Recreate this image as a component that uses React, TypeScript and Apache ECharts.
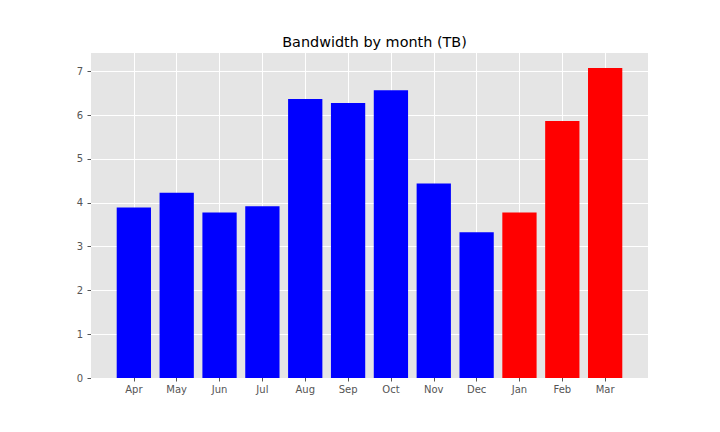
import React, { useEffect, useRef } from "react";
import * as echarts from "echarts";

const months = ["Apr", "May", "Jun", "Jul", "Aug", "Sep", "Oct", "Nov", "Dec", "Jan", "Feb", "Mar"];
const bandwidth = [3.89, 4.23, 3.78, 3.92, 6.37, 6.28, 6.57, 4.44, 3.33, 3.78, 5.87, 7.08];
const redFromIndex = 9;
const yTicks = [0, 1, 2, 3, 4, 5, 6, 7];
const xTicks = months.map((_, i) => i);

export default function App() {
  const ref = useRef<HTMLDivElement>(null);
  useEffect(() => {
    document.body.style.margin = "0";
    const chart = echarts.init(ref.current!, null, { renderer: "svg" });
    const gridLeft = 91;
    const gridWidth = 557;
    const unitPx = gridWidth / 13;
    chart.setOption({
      animation: false,
      backgroundColor: "#ffffff",
      textStyle: { fontFamily: "DejaVu Sans" },
      title: {
        text: "Bandwidth by month (TB)",
        left: gridLeft + gridWidth / 2,
        textAlign: "center",
        top: 30,
        textStyle: { fontSize: 14.4, fontWeight: "normal", color: "#000000", fontFamily: "DejaVu Sans" },
      },
      grid: {
        left: gridLeft,
        top: 53,
        width: gridWidth,
        height: 325,
        show: true,
        backgroundColor: "#E5E5E5",
        borderWidth: 0,
      },
      xAxis: {
        type: "value",
        min: -1,
        max: 12,
        interval: 1,
        axisLine: { show: false, onZero: false },
        axisTick: { show: true, length: 3.5, lineStyle: { color: "#555555" }, customValues: xTicks },
        axisLabel: {
          color: "#555555",
          fontSize: 10,
          margin: 6,
          customValues: xTicks,
          formatter: (v: number) => months[Math.round(v)] ?? "",
        },
        splitLine: { show: true, lineStyle: { color: "#ffffff", width: 1 } },
      },
      yAxis: {
        type: "value",
        min: 0,
        max: 7.42,
        interval: 1,
        axisLine: { show: false, onZero: false },
        axisTick: { show: true, length: 3.5, lineStyle: { color: "#555555" }, customValues: yTicks },
        axisLabel: {
          color: "#555555",
          fontSize: 10,
          margin: 8,
          customValues: yTicks,
          formatter: (v: number) => String(v),
        },
        splitLine: { show: true, lineStyle: { color: "#ffffff", width: 1 } },
      },
      series: [
        {
          type: "bar",
          barWidth: unitPx * 0.8,
          data: bandwidth.map((v, i) => ({
            value: [i, v],
            itemStyle: { color: i >= redFromIndex ? "#ff0000" : "#0000ff" },
          })),
        },
      ],
    });
    return () => chart.dispose();
  }, []);
  return <div ref={ref} style={{ width: 720, height: 432 }} />;
}
